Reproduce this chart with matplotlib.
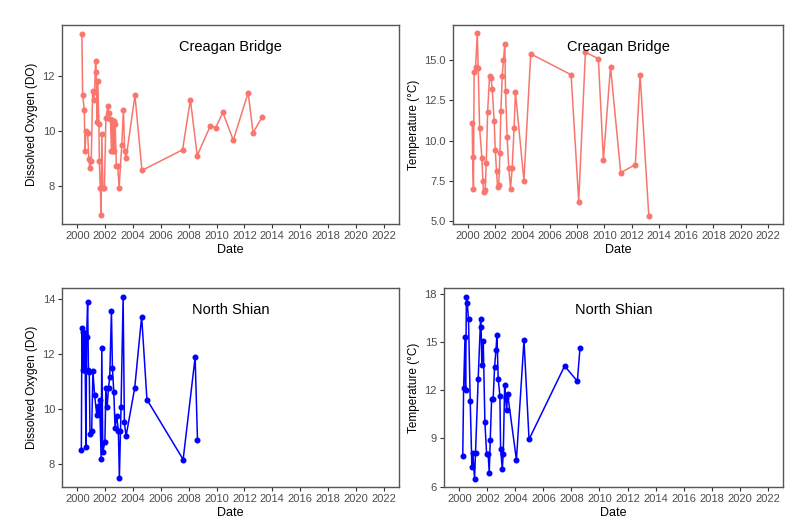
import matplotlib
matplotlib.use("Agg")
import matplotlib.pyplot as plt

plt.rcParams['font.family'] = ['Liberation Sans', 'DejaVu Sans']

# Creagan Bridge - dissolved oxygen
cb_do_year = [2000.33, 2000.38, 2000.50, 2000.55, 2000.62, 2000.74, 2000.83, 2000.90,
              2001.00, 2001.10, 2001.17, 2001.24, 2001.31, 2001.36, 2001.42, 2001.47,
              2001.55, 2001.58, 2001.65, 2001.71, 2001.76, 2001.84, 2001.95, 2002.05,
              2002.19, 2002.26, 2002.38, 2002.45, 2002.50, 2002.55, 2002.60, 2002.65,
              2002.72, 2002.80, 2002.90, 2003.00, 2003.19, 2003.31, 2003.40, 2003.50,
              2004.14, 2004.64, 2007.56, 2008.12, 2008.61, 2009.56, 2009.93, 2010.45,
              2011.20, 2012.27, 2012.62, 2013.26]
cb_do = [13.50, 11.30, 10.75, 9.25, 10.00, 9.92, 8.95, 8.62,
         8.91, 11.45, 11.10, 11.40, 12.54, 12.13, 10.30, 11.81,
         10.24, 8.89, 7.92, 6.92, 9.88, 7.92, 7.92, 10.46,
         10.88, 10.64, 10.43, 9.25, 10.40, 9.25, 10.35, 9.25,
         10.24, 8.71, 8.71, 7.92, 9.46, 10.75, 9.25, 8.99,
         11.28, 8.55, 9.30, 11.12, 9.09, 10.18, 10.10, 10.66,
         9.65, 11.38, 9.92, 10.48]

# Creagan Bridge - temperature
cb_t_year = [2000.31, 2000.34, 2000.40, 2000.45, 2000.56, 2000.68, 2000.75, 2000.85,
             2001.02, 2001.09, 2001.14, 2001.26, 2001.34, 2001.44, 2001.58, 2001.68,
             2001.78, 2001.92, 2002.00, 2002.09, 2002.17, 2002.26, 2002.34, 2002.41,
             2002.51, 2002.60, 2002.70, 2002.75, 2002.87, 2002.99, 2003.12, 2003.24,
             2003.38, 2003.48, 2004.10, 2004.60, 2007.56, 2008.12, 2008.61, 2009.56,
             2009.93, 2010.45, 2011.20, 2012.27, 2012.62, 2013.26]
cb_t = [11.1, 9.0, 7.0, 14.3, 14.6, 16.7, 14.5, 10.8,
        8.9, 7.5, 6.8, 6.9, 8.6, 11.8, 14.0, 13.9,
        13.2, 11.2, 9.4, 8.1, 7.1, 7.2, 9.25, 11.85,
        14.0, 15.0, 16.0, 13.1, 10.2, 8.3, 7.0, 8.3,
        10.8, 13.0, 7.5, 15.4, 14.1, 6.2, 15.5, 15.1,
        8.8, 14.6, 8.0, 8.5, 14.1, 5.3]

# North Shian - dissolved oxygen
ns_do_year = [2000.29, 2000.33, 2000.38, 2000.43, 2000.48, 2000.53, 2000.57, 2000.62,
              2000.67, 2000.74, 2000.80, 2000.86, 2000.91, 2001.03, 2001.12, 2001.24,
              2001.40, 2001.47, 2001.55, 2001.60, 2001.71, 2001.76, 2001.83, 2001.98,
              2002.05, 2002.14, 2002.24, 2002.33, 2002.45, 2002.52, 2002.62, 2002.71,
              2002.83, 2002.95, 2003.02, 2003.10, 2003.14, 2003.29, 2003.38, 2003.50,
              2004.12, 2004.62, 2005.00, 2007.60, 2008.46, 2008.63]
ns_do = [8.51, 12.93, 11.40, 12.80, 11.40, 12.70, 11.40, 8.59,
         12.60, 13.89, 11.40, 11.32, 9.08, 9.18, 11.36, 10.50,
         9.76, 10.10, 9.80, 10.30, 8.18, 12.20, 8.42, 8.79,
         10.75, 10.06, 10.76, 11.15, 13.57, 11.48, 10.60, 9.30,
         9.73, 9.18, 7.48, 9.20, 10.06, 14.06, 9.50, 9.00,
         10.75, 13.35, 10.33, 8.15, 11.87, 8.86]

# North Shian - temperature
ns_t_year = [2000.24, 2000.30, 2000.40, 2000.44, 2000.50, 2000.56, 2000.65, 2000.77,
             2000.89, 2000.96, 2001.08, 2001.15, 2001.34, 2001.51, 2001.55, 2001.60,
             2001.70, 2001.82, 2001.94, 2002.05, 2002.13, 2002.20, 2002.30, 2002.41,
             2002.51, 2002.61, 2002.68, 2002.77, 2002.89, 2002.94, 2003.06, 2003.13,
             2003.23, 2003.30, 2003.37, 2003.44, 2004.07, 2004.61, 2004.97, 2007.51,
             2008.42, 2008.61]
ns_t = [7.91, 12.1, 15.3, 12.0, 17.8, 17.4, 16.4, 11.35,
        7.21, 8.08, 6.48, 8.1, 12.7, 16.42, 15.9, 13.53,
        15.08, 10.0, 8.04, 8.0, 6.86, 8.87, 11.45, 11.45,
        13.42, 14.5, 15.43, 12.7, 11.66, 8.35, 7.1, 8.0,
        12.29, 11.5, 10.73, 11.77, 7.66, 15.12, 8.93, 13.5,
        12.55, 14.64]

year_ticks = list(range(2000, 2023, 2))
red = '#F8766D'
blue = '#0000FF'

W, H = 800, 532
fig = plt.figure(figsize=(8, 5.32), dpi=100)


def make_axes(x0, x1, y0, y1):
    # pixel box (from top-left) -> figure fractions
    return fig.add_axes([x0 / W, 1 - y1 / H, (x1 - x0) / W, (y1 - y0) / H])


def style(ax, ylim, yticks, ylabels, ylab, title):
    ax.set_xlim(1998.9, 2023.1)
    ax.set_ylim(*ylim)
    ax.set_xticks(year_ticks)
    ax.set_xticklabels([str(y) for y in year_ticks])
    ax.set_yticks(yticks)
    ax.set_yticklabels(ylabels)
    ax.tick_params(axis='both', direction='out', length=3, width=0.8,
                   color='#333333', labelcolor='#4D4D4D', labelsize=8, pad=2)
    for s in ax.spines.values():
        s.set_color('#555555')
        s.set_linewidth(1.0)
    ax.set_xlabel('Date', fontsize=9, labelpad=2)
    ax.set_ylabel(ylab, fontsize=8.5, labelpad=3)
    ax.text(0.5, 0.89, title, transform=ax.transAxes, ha='center', va='center',
            fontsize=10.5)


ax1 = make_axes(62, 399, 25, 224)
ax1.plot(cb_do_year, cb_do, color=red, lw=1.1, marker='o', ms=3.3)
style(ax1, (6.6, 13.84), [8, 10, 12], ['8', '10', '12'],
      'Dissolved Oxygen (DO)', 'Creagan Bridge')

ax2 = make_axes(453, 783, 25, 224)
ax2.plot(cb_t_year, cb_t, color=red, lw=1.1, marker='o', ms=3.3)
style(ax2, (4.8, 17.2), [5, 7.5, 10, 12.5, 15], ['5.0', '7.5', '10.0', '12.5', '15.0'],
      'Temperature (°C)', 'Creagan Bridge')

ax3 = make_axes(62, 399, 288, 487)
ax3.plot(ns_do_year, ns_do, color=blue, lw=1.1, marker='o', ms=3.3)
style(ax3, (7.15, 14.39), [8, 10, 12, 14], ['8', '10', '12', '14'],
      'Dissolved Oxygen (DO)', 'North Shian')

ax4 = make_axes(444, 783, 288, 487)
ax4.plot(ns_t_year, ns_t, color=blue, lw=1.1, marker='o', ms=3.3)
style(ax4, (5.97, 18.35), [6, 9, 12, 15, 18], ['6', '9', '12', '15', '18'],
      'Temperature (°C)', 'North Shian')

fig.savefig('out.png', dpi=100)
